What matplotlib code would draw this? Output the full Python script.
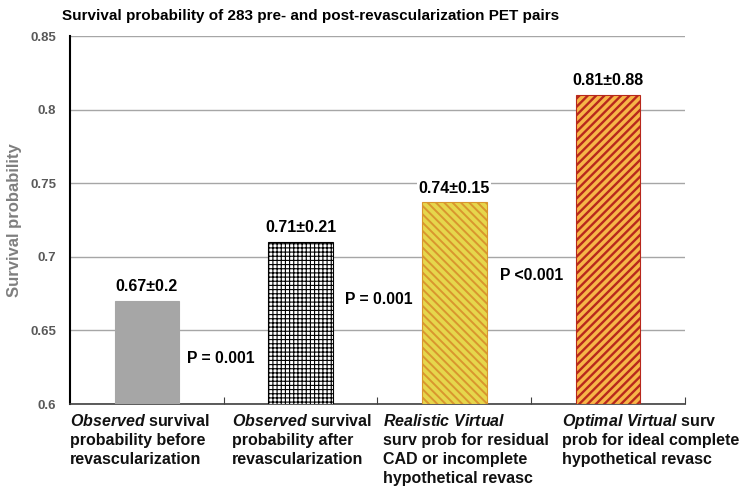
import numpy as np
from matplotlib import pyplot as plt
from matplotlib import transforms

plt.rcParams['font.family'] = 'Liberation Sans'
plt.rcParams['mathtext.fontset'] = 'custom'
plt.rcParams['mathtext.rm'] = 'Liberation Sans:bold'
plt.rcParams['mathtext.it'] = 'Liberation Sans:bold:italic'

# data
categories = [r"$\mathit{Observed}$ survival" "\nprobability before\nrevascularization",
              r"$\mathit{Observed}$ survival" "\nprobability after\nrevascularization",
              r"$\mathit{Realistic\ Virtual}$" "\nsurv prob for residual\nCAD or incomplete\nhypothetical revasc",
              r"$\mathit{Optimal\ Virtual}$ surv" "\nprob for ideal complete\nhypothetical revasc"]
values = [0.670, 0.710, 0.737, 0.810]
value_labels = ["0.67\u00b10.2", "0.71\u00b10.21", "0.74\u00b10.15", "0.81\u00b10.88"]
p_labels = ["P = 0.001", "P = 0.001", "P <0.001"]
p_pos = [(0.26, 0.6307), (1.29, 0.6710), (2.30, 0.6874)]
label_left = [-0.5, 0.554, 1.536, 2.700]

faces = ['#a6a6a6', 'white', '#e6d64c', '#f7b548']
edges = ['#a6a6a6', 'black', '#d9962e', '#b8281c']
hatches = [None, '++++', '\\\\\\\\', '////']
hatch_lw = [1.0, 0.8, 1.4, 1.7]

fig = plt.figure(figsize=(7.42, 4.87), dpi=100)
ax = fig.add_axes([0.0943, 0.1704, 0.8288, 0.7556])

x = np.arange(len(values))
for i in range(len(values)):
    b = ax.bar(x[i], values[i] - 0.6, bottom=0.6, width=0.42, color=faces[i],
               edgecolor=edges[i], hatch=hatches[i], linewidth=0.8, zorder=3)
    try:
        b[0].set_hatch_linewidth(hatch_lw[i])
    except AttributeError:
        pass
    ax.text(x[i], values[i] + 0.0045, value_labels[i], ha='center', va='bottom',
            fontsize=11.5, fontweight='bold', zorder=4,
            bbox=dict(facecolor='white', edgecolor='none', pad=1))

for lab, (px, py) in zip(p_labels, p_pos):
    ax.text(px, py, lab, ha='left', va='center', fontsize=11.3, fontweight='bold', zorder=4)

ax.set_xlim(-0.5, 3.5)
ax.set_ylim(0.6, 0.85)
ax.set_yticks([0.6, 0.65, 0.7, 0.75, 0.8, 0.85])
ax.set_yticklabels(['0.6', '0.65', '0.7', '0.75', '0.8', '0.85'],
                   fontsize=9.5, fontweight='bold', color='#595959')
ax.tick_params(axis='y', length=0, pad=10)
ax.set_xticks([0.5, 1.5, 2.5, 3.5])
ax.set_xticklabels([])
ax.tick_params(axis='x', direction='in', length=5, color='#404040')
ax.grid(axis='y', color='#a6a6a6', linewidth=1, zorder=0)
ax.set_axisbelow(True)
for s in ['top', 'right']:
    ax.spines[s].set_visible(False)
ax.spines['left'].set_color('black')
ax.spines['left'].set_linewidth(1.5)
ax.spines['bottom'].set_color('#404040')
ax.spines['bottom'].set_linewidth(1.2)

# category labels, one line at a time so mixed italic lines keep even spacing
trans = transforms.blended_transform_factory(ax.transData, ax.transAxes)
for i, lab in enumerate(categories):
    for k, line in enumerate(lab.split('\n')):
        t = transforms.offset_copy(trans, fig=fig, x=0, y=-14.0 * k, units='points')
        ax.text(label_left[i], -0.041, line, transform=t, ha='left', va='center_baseline',
                fontsize=11.5, fontweight='bold', color='#111111')

ax.set_ylabel('Survival probability', fontsize=12, fontweight='bold', color='#7f7f7f', labelpad=6)
fig.text(0.084, 0.968, 'Survival probability of 283 pre- and post-revascularization PET pairs',
         fontsize=11, fontweight='bold', ha='left', va='center')

plt.savefig('out.png', dpi=100)
